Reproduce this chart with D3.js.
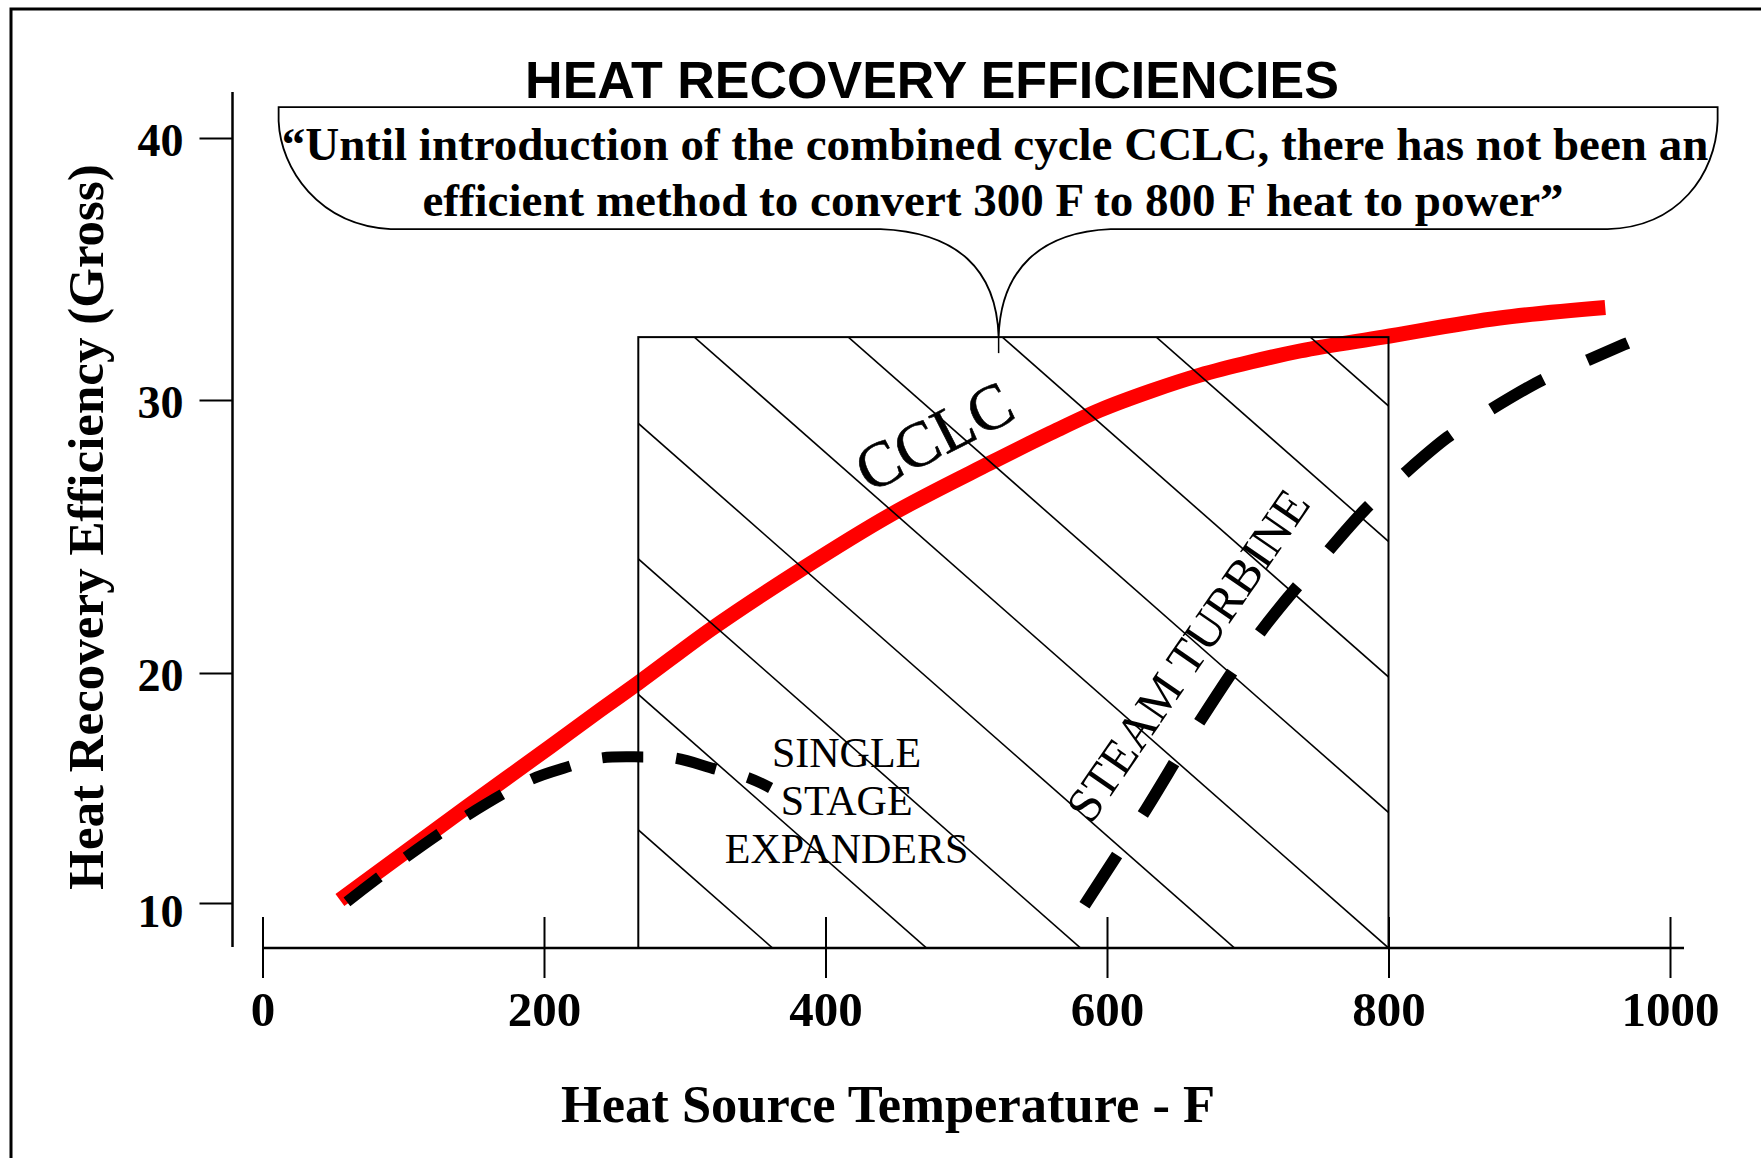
<!DOCTYPE html>
<html>
<head>
<meta charset="utf-8">
<script src="https://cdn.jsdelivr.net/npm/d3@7"></script>
<style>
  body { margin: 0; background: #fff; }
  svg { display: block; }
</style>
</head>
<body>
<svg width="1761" height="1158"></svg>
<script>
// values
const cclcTemp = [55, 145, 204, 240, 267, 318, 382, 446, 517, 560, 595, 631, 666, 702, 737, 796, 879, 954];
const cclcEff = [10.13, 14.17, 16.78, 18.39, 19.57, 21.58, 23.77, 25.79, 27.69, 28.79, 29.63, 30.34, 30.95, 31.45, 31.87, 32.4, 33.13, 33.53];

const expanderTemp = [60, 101, 144, 190, 216, 240, 270, 293, 323, 345, 361];
const expanderEff = [10.05, 11.95, 13.75, 15.35, 15.9, 16.3, 16.35, 16.3, 15.8, 15.45, 15.0];

const steamTemp = [584, 626, 666, 709, 756, 783, 810, 842, 872, 909, 942, 970];
const steamEff = [9.9, 13.9, 17.9, 21.5, 24.4, 25.97, 27.25, 28.64, 29.63, 30.76, 31.53, 32.18];

const windowTemp = [267, 800];   // hatched region
const windowTop = 32.4;

const xTicks = [0, 200, 400, 600, 800, 1000];
const yTicks = [10, 20, 30, 40];

const titleText = 'HEAT RECOVERY EFFICIENCIES';
const quoteLines = [
  '\u201CUntil introduction of the combined cycle CCLC, there has not been an',
  'efficient method to convert 300 F to 800 F heat to power\u201D'
];
const expanderLabel = ['SINGLE', 'STAGE', 'EXPANDERS'];

const svg = d3.select('svg');
const serif = "'Liberation Serif', 'Times New Roman', serif";
const sans = "'Liberation Sans', Arial, sans-serif";

// the original y axis is not evenly spaced
const xScale = d3.scaleLinear().domain([0, 1000]).range([262.5, 1670]);
const yScale = d3.scaleLinear().domain([10, 20, 30, 40]).range([903, 673, 400, 138]);
const axisY = 948;
const axisX = 232.5;

const zip = (a, b) => a.map((d, i) => [d, b[i]]);

// frame
svg.append('rect')
  .attr('x', 11).attr('y', 9)
  .attr('width', 1800).attr('height', 1200)
  .attr('fill', 'none').attr('stroke', '#000').attr('stroke-width', 3);

// title
svg.append('text')
  .attr('x', 932).attr('y', 98)
  .attr('text-anchor', 'middle')
  .attr('font-family', sans).attr('font-weight', 'bold').attr('font-size', 52)
  .text(titleText);

// red CCLC curve (under the hatch)
const line = d3.line()
  .x(d => xScale(d[0]))
  .y(d => yScale(d[1]));

svg.append('path')
  .datum(zip(cclcTemp, cclcEff))
  .attr('d', line.curve(d3.curveMonotoneX))
  .attr('fill', 'none').attr('stroke', '#ff0000').attr('stroke-width', 15);

// hatched window
const wx0 = xScale(windowTemp[0]);
const wx1 = xScale(windowTemp[1]);
const wy0 = yScale(windowTop);

svg.append('clipPath').attr('id', 'win')
  .append('rect')
  .attr('x', wx0).attr('y', wy0)
  .attr('width', wx1 - wx0).attr('height', axisY - wy0);

const slope = 0.88;
const spacing = 154;
const hatch = d3.range(-6, 7).map(k => wx1 - k * spacing);
svg.append('g').attr('clip-path', 'url(#win)')
  .selectAll('line').data(hatch).join('line')
  .attr('x1', b => b - 1000).attr('y1', axisY - 1000 * slope)
  .attr('x2', b => b + 300).attr('y2', axisY + 300 * slope)
  .attr('stroke', '#000').attr('stroke-width', 1.6);

svg.append('rect')
  .attr('x', wx0).attr('y', wy0)
  .attr('width', wx1 - wx0).attr('height', axisY - wy0)
  .attr('fill', 'none').attr('stroke', '#000').attr('stroke-width', 2);

// dashed curves
svg.append('path')
  .datum(zip(expanderTemp, expanderEff))
  .attr('d', line.curve(d3.curveCatmullRom))
  .attr('fill', 'none').attr('stroke', '#000')
  .attr('stroke-width', 11).attr('stroke-dasharray', '41 33');

svg.append('path')
  .datum(zip(steamTemp, steamEff))
  .attr('d', line.curve(d3.curveMonotoneX))
  .attr('fill', 'none').attr('stroke', '#000')
  .attr('stroke-width', 12).attr('stroke-dasharray', '60 48');

// x axis
const xAxisG = svg.append('g')
  .attr('transform', `translate(0,${axisY})`)
  .call(d3.axisBottom(xScale).tickValues(xTicks).tickSize(30).tickFormat(d3.format('d')));
xAxisG.select('.domain').remove();
xAxisG.selectAll('.tick line').attr('y1', -31).attr('stroke-width', 2);
xAxisG.selectAll('.tick text')
  .attr('y', 78).attr('dy', 0)
  .attr('font-family', serif).attr('font-weight', 'bold').attr('font-size', 49);
svg.append('line')
  .attr('x1', xScale(0)).attr('x2', xScale(1000) + 14)
  .attr('y1', axisY).attr('y2', axisY)
  .attr('stroke', '#000').attr('stroke-width', 2.5);

// y axis
const yAxisG = svg.append('g')
  .attr('transform', `translate(${axisX},0)`)
  .call(d3.axisLeft(yScale).tickValues(yTicks).tickSize(33).tickPadding(16));
yAxisG.select('.domain').remove();
yAxisG.selectAll('.tick line').attr('stroke-width', 2);
yAxisG.selectAll('.tick text')
  .attr('dy', d => d === 10 ? '0.5em' : '0.38em')
  .attr('font-family', serif).attr('font-weight', 'bold').attr('font-size', 46);
svg.append('line')
  .attr('x1', axisX).attr('x2', axisX)
  .attr('y1', 92).attr('y2', 947)
  .attr('stroke', '#000').attr('stroke-width', 2.5);

// axis titles
svg.append('text')
  .attr('x', 888).attr('y', 1122)
  .attr('text-anchor', 'middle')
  .attr('font-family', serif).attr('font-weight', 'bold').attr('font-size', 52.5)
  .text('Heat Source Temperature - F');

svg.append('text')
  .attr('transform', 'translate(103,527) rotate(-90)')
  .attr('text-anchor', 'middle')
  .attr('font-family', serif).attr('font-weight', 'bold').attr('font-size', 51)
  .text('Heat Recovery Efficiency (Gross)');

// callout bubble pointing at the window
const tipX = xScale(523);
const tipY = wy0;
const bubbleTop = tipY - 230;
const bubbleBot = tipY - 108;
const callout = [
  `M${tipX - 720},${bubbleTop}`,
  `L${tipX + 719},${bubbleTop}`,
  `L${tipX + 719},${bubbleTop + 14}`,
  `C${tipX + 717},${bubbleBot - 55} ${tipX + 680},${bubbleBot - 2} ${tipX + 609},${bubbleBot}`,
  `L${tipX + 112},${bubbleBot}`,
  `C${tipX + 42},${bubbleBot + 3} ${tipX + 2},${bubbleBot + 40} ${tipX},${tipY}`,
  `C${tipX - 2},${bubbleBot + 40} ${tipX - 42},${bubbleBot + 3} ${tipX - 118},${bubbleBot}`,
  `L${tipX - 608},${bubbleBot}`,
  `C${tipX - 680},${bubbleBot - 4} ${tipX - 718},${bubbleBot - 60} ${tipX - 720},${bubbleTop + 14}`,
  'Z'
].join(' ');
svg.append('path')
  .attr('d', callout)
  .attr('fill', 'none').attr('stroke', '#000').attr('stroke-width', 1.8);
svg.append('line')
  .attr('x1', tipX).attr('x2', tipX)
  .attr('y1', tipY).attr('y2', tipY + 16)
  .attr('stroke', '#000').attr('stroke-width', 1.5);

svg.append('g')
  .selectAll('text').data(quoteLines).join('text')
  .attr('x', (d, i) => i === 0 ? 995 : 993)
  .attr('y', (d, i) => 160 + i * 56)
  .attr('text-anchor', 'middle')
  .attr('font-family', serif).attr('font-weight', 'bold').attr('font-size', 47)
  .text(d => d);

// curve labels
svg.append('text')
  .attr('transform', `translate(${xScale(477)},${yScale(28.7)}) rotate(-27)`)
  .attr('text-anchor', 'middle').attr('dy', '0.35em')
  .attr('font-family', serif).attr('font-size', 64)
  .attr('stroke', '#000').attr('stroke-width', 0.6)
  .text('CCLC');

svg.append('text')
  .attr('transform', `translate(${xScale(657)},${yScale(20.66)}) rotate(-55.5)`)
  .attr('text-anchor', 'middle').attr('dy', '0.35em')
  .attr('font-family', serif).attr('font-size', 49)
  .text('STEAM TURBINE');

svg.append('g')
  .selectAll('text').data(expanderLabel).join('text')
  .attr('x', xScale(415))
  .attr('y', (d, i) => 767 + i * 48)
  .attr('text-anchor', 'middle')
  .attr('font-family', serif).attr('font-size', 42)
  .text(d => d);
</script>
</body>
</html>
